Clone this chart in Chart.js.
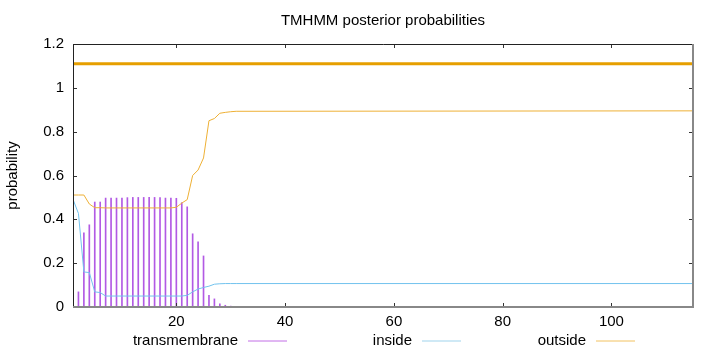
<!DOCTYPE html>
<html>
<head>
<meta charset="utf-8">
<script src="https://cdn.jsdelivr.net/npm/chart.js@4.4.1/dist/chart.umd.min.js"></script>
<style>
  body { margin: 0; background: #fff; }
  canvas { display: block; }
</style>
</head>
<body>
<canvas id="tmhmmChart" width="720" height="352"></canvas>
<script>
// residue positions (line segments between them are straight, so the flat tail only needs its end point)
const positions = [1, 2, 3, 4, 5, 6, 7, 8, 9, 10, 11, 12, 13, 14, 15, 16, 17, 18, 19, 20,
                   21, 22, 23, 24, 25, 26, 27, 28, 29, 30, 31, 115];
const transmembraneProb = [0, 0.069, 0.338, 0.375, 0.479, 0.479, 0.497, 0.497, 0.497, 0.497,
                           0.499, 0.5, 0.5, 0.5, 0.5, 0.5, 0.499, 0.497, 0.497, 0.496,
                           0.476, 0.457, 0.334, 0.297, 0.233, 0.053, 0.037, 0.014, 0.008, 0.004,
                           0.002, 0];
const insideProb = [0.491, 0.427, 0.16, 0.157, 0.069, 0.066, 0.05, 0.05, 0.05, 0.05,
                    0.05, 0.05, 0.05, 0.05, 0.05, 0.05, 0.05, 0.05, 0.05, 0.05,
                    0.05, 0.053, 0.069, 0.082, 0.089, 0.095, 0.104, 0.106, 0.107, 0.107,
                    0.107, 0.107];
const outsideProb = [0.511, 0.511, 0.511, 0.47, 0.453, 0.453, 0.452, 0.452, 0.452, 0.452,
                     0.452, 0.452, 0.452, 0.452, 0.452, 0.452, 0.452, 0.452, 0.452, 0.455,
                     0.474, 0.49, 0.6, 0.625, 0.68, 0.85, 0.86, 0.884, 0.888, 0.891,
                     0.893, 0.895];

// predicted topology: whole sequence outside
const outsideRegion = [1, 115];
const regionLevel = 1.11;

const xTicks = [20, 40, 60, 80, 100];
const yTicks = [0, 0.2, 0.4, 0.6, 0.8, 1, 1.2];
const yTickLabels = ["0", "0.2", "0.4", "0.6", "0.8", "1", "1.2"];

const seriesNames = ["transmembrane", "inside", "outside"];
const FONT = "'Liberation Sans', Arial, sans-serif";

function toPoints(xs, ys) {
    return xs.map((x, i) => ({ x: x, y: ys[i] }));
}

// gnuplot style frame: title, inner tick marks, border box, legend below
const gnuplotFrame = {
    id: "gnuplotFrame",
    afterDraw(chart) {
        const ctx = chart.ctx;
        const area = chart.chartArea;
        const xs = chart.scales.x;
        const ys = chart.scales.y;
        ctx.save();

        // title
        ctx.fillStyle = "#000";
        ctx.font = "15px " + FONT;
        ctx.textAlign = "center";
        ctx.textBaseline = "middle";
        ctx.fillText("TMHMM posterior probabilities", (area.left + area.right) / 2, 21);

        // tick marks inside the frame
        ctx.strokeStyle = "#333";
        ctx.lineWidth = 1;
        ctx.beginPath();
        xTicks.forEach(t => {
            const px = Math.round(xs.getPixelForValue(t)) + 0.5;
            ctx.moveTo(px, area.bottom); ctx.lineTo(px, area.bottom - 4);
            ctx.moveTo(px, area.top); ctx.lineTo(px, area.top + 4);
        });
        yTicks.forEach(t => {
            const py = Math.round(ys.getPixelForValue(t)) + 0.5;
            ctx.moveTo(area.left, py); ctx.lineTo(area.left + 4, py);
            ctx.moveTo(area.right, py); ctx.lineTo(area.right - 4, py);
        });
        ctx.stroke();

        // border
        ctx.strokeStyle = "#222";
        ctx.beginPath();
        ctx.moveTo(area.left + 0.5, area.bottom);
        ctx.lineTo(area.left + 0.5, area.top + 0.5);
        ctx.lineTo(area.right, area.top + 0.5);
        ctx.stroke();
        ctx.strokeStyle = "#888";
        ctx.lineWidth = 2;
        ctx.beginPath();
        ctx.moveTo(area.left, area.bottom);
        ctx.lineTo(area.right, area.bottom);
        ctx.lineTo(area.right, area.top);
        ctx.stroke();

        // legend: text then sample line
        const keyLineStart = [248, 422, 596];
        const keyY = 340.5;
        ctx.font = "15px " + FONT;
        ctx.textAlign = "right";
        ctx.lineWidth = 1;
        seriesNames.forEach((name, i) => {
            const ds = chart.data.datasets[i];
            ctx.fillStyle = "#000";
            ctx.fillText(name, keyLineStart[i] - 10, keyY);
            ctx.strokeStyle = ds.legendColor;
            ctx.beginPath();
            ctx.moveTo(keyLineStart[i], keyY + 0.5);
            ctx.lineTo(keyLineStart[i] + 39, keyY + 0.5);
            ctx.stroke();
        });
        ctx.restore();
    }
};

const ctx = document.getElementById("tmhmmChart").getContext("2d");
new Chart(ctx, {
    type: "line",
    data: {
        datasets: [
            {
                type: "bar",
                label: seriesNames[0],
                data: toPoints(positions, transmembraneProb),
                backgroundColor: "#b25ae4",
                legendColor: "#c26ee6",
                barThickness: 1,
                order: 3
            },
            {
                label: seriesNames[1],
                data: toPoints(positions, insideProb),
                borderColor: "#72c3ee",
                legendColor: "#9fd3ec",
                borderWidth: 1,
                pointRadius: 0,
                tension: 0,
                order: 2
            },
            {
                label: seriesNames[2],
                data: toPoints(positions, outsideProb),
                borderColor: "#eeb035",
                legendColor: "#f2c260",
                borderWidth: 1,
                pointRadius: 0,
                tension: 0,
                order: 1
            },
            {
                label: "outside region",
                data: outsideRegion.map(x => ({ x: x, y: regionLevel })),
                borderColor: "#e69f00",
                borderWidth: 3,
                pointRadius: 0,
                order: 0
            }
        ]
    },
    options: {
        responsive: false,
        animation: false,
        devicePixelRatio: 1,
        layout: { padding: { top: 44, right: 27, left: 0, bottom: 0 } },
        plugins: {
            legend: { display: false },
            title: { display: false },
            tooltip: { enabled: false }
        },
        scales: {
            x: {
                type: "linear",
                offset: false,
                min: outsideRegion[0],
                max: outsideRegion[1],
                grid: { display: false, drawTicks: false, offset: false },
                border: { display: false },
                afterBuildTicks: scale => { scale.ticks = xTicks.map(v => ({ value: v })); },
                afterFit: scale => { scale.height = 45; },
                ticks: {
                    padding: 6,
                    color: "#000",
                    maxRotation: 0,
                    font: { family: FONT, size: 15 }
                }
            },
            y: {
                min: 0,
                max: 1.2,
                grid: { display: false, drawTicks: false },
                border: { display: false },
                afterBuildTicks: scale => { scale.ticks = yTicks.map(v => ({ value: v })); },
                afterFit: scale => { scale.width = 73; },
                ticks: {
                    padding: 9,
                    color: "#000",
                    font: { family: FONT, size: 15 },
                    callback: (value, index) => yTickLabels[index]
                },
                title: {
                    display: true,
                    text: "probability",
                    color: "#000",
                    padding: { top: 4, bottom: 0 },
                    font: { family: FONT, size: 15 }
                }
            }
        }
    },
    plugins: [gnuplotFrame]
});
</script>
</body>
</html>
